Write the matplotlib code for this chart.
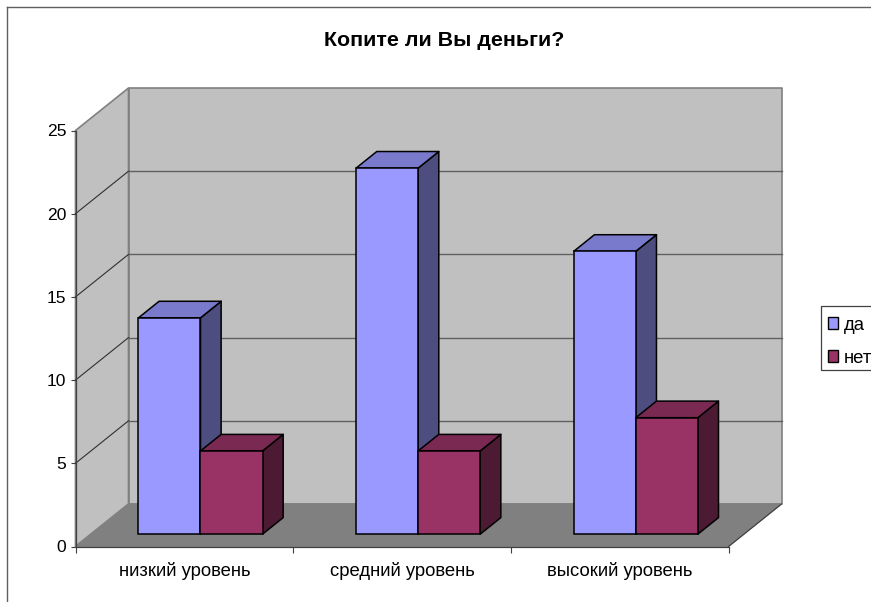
#!/usr/bin/env python3
"""
Копите ли Вы деньги? - столбчатая диаграмма в псевдо-3D
"""

import matplotlib
matplotlib.use('Agg')
import matplotlib.pyplot as plt
import numpy as np
from matplotlib.patches import Rectangle

categories = ['низкий уровень', 'средний уровень', 'высокий уровень']
da = [13, 22, 17]
net = [5, 5, 7]
series_names = ['да', 'нет']
y_ticks = [0, 5, 10, 15, 20, 25]

W, H = 871, 602
plt.rcParams['font.family'] = ['Liberation Sans', 'DejaVu Sans']

# Размеры передней плоскости в пикселях
left, right = 75.5, 728.5
bottom, top = 546.5, 130.5
px_x = (right - left) / 3
px_y = (bottom - top) / 25

# Сдвиг по глубине, в единицах данных
DX = 53 / px_x
DY = 42.5 / px_y
BAR_D = 0.29        # где стоит передняя грань столбца
BAR_DEPTH = 0.39    # глубина столбца
GAP = 0.2185
BAR_W = 0.285


def pr(x, y, d):
    return x + d * DX, y + d * DY


def face(ax, pts, color, edge='black', lw=1.1, z=3):
    xs, ys = zip(*[pr(*p) for p in pts])
    ax.fill(xs, ys, facecolor=color, edgecolor=edge, linewidth=lw,
            zorder=z, clip_on=False, joinstyle='round')


def draw_bar(ax, x0, h, front, top_c, side_c, z):
    x1 = x0 + BAR_W
    d0, d1 = BAR_D, BAR_D + BAR_DEPTH
    face(ax, [(x1, 0, d0), (x1, 0, d1), (x1, h, d1), (x1, h, d0)], side_c, z=z)
    face(ax, [(x0, h, d0), (x1, h, d0), (x1, h, d1), (x0, h, d1)], top_c, z=z)
    bx, by = pr(x0, 0, d0)
    return ax.bar(bx, h, BAR_W, bottom=by, align='edge', color=front,
                  edgecolor='black', linewidth=1.1, zorder=z, clip_on=False)


fig = plt.figure(figsize=(W / 100, H / 100), dpi=100, facecolor='white')
ax = fig.add_axes([left / W, 1 - bottom / H, (right - left) / W, (bottom - top) / H])
ax.set_xlim(0, 3)
ax.set_ylim(0, 25)
ax.patch.set_alpha(0)

# Стенки и пол
face(ax, [(0, 0, 1), (3, 0, 1), (3, 25, 1), (0, 25, 1)], '#c0c0c0', '#808080', 1.2, 1)
face(ax, [(0, 0, 0), (0, 0, 1), (0, 25, 1), (0, 25, 0)], '#c0c0c0', '#808080', 1.2, 1)
face(ax, [(0, 0, 0), (3, 0, 0), (3, 0, 1), (0, 0, 1)], '#808080', '#808080', 1.0, 1)

# Линии сетки
for t in y_ticks[1:-1]:
    xs, ys = zip(pr(0, t, 0), pr(0, t, 1), pr(3, t, 1))
    ax.plot(xs[:2], ys[:2], color='#303030', lw=0.8, zorder=2, clip_on=False)
    ax.plot(xs[1:], ys[1:], color='#606060', lw=1.0, zorder=2, clip_on=False)
xs, ys = zip(pr(3, 0, 0), pr(3, 0, 1))
ax.plot(xs, ys, color='#404040', lw=0.8, zorder=2, clip_on=False)

# Столбцы
for i in range(len(categories)):
    b1 = draw_bar(ax, i + GAP, da[i], '#9999ff', '#7a7acc', '#4d4d80', 3 + i * 2)
    b2 = draw_bar(ax, i + GAP + BAR_W, net[i], '#993366', '#7a2952', '#4d1a33', 4 + i * 2)

# Оси
for s in ['top', 'right']:
    ax.spines[s].set_visible(False)
for s in ['left', 'bottom']:
    ax.spines[s].set_color('#404040')
    ax.spines[s].set_linewidth(0.9)
    ax.spines[s].set_zorder(12)
ax.set_yticks(y_ticks)
ax.tick_params(axis='y', length=3.6, width=0.8, color='#404040', pad=3, labelsize=12.6)
ax.set_xticks([0, 1, 2, 3])
ax.set_xticklabels([])
ax.tick_params(axis='x', which='major', length=4.3, width=0.8, color='#404040')
ax.set_xticks([0.5, 1.5, 2.5], minor=True)
ax.set_xticklabels(categories, minor=True)
ax.tick_params(axis='x', which='minor', length=0, pad=11.5, labelsize=13.3)

fig.text(444.5 / W, 1 - 41 / H, 'Копите ли Вы деньги?', ha='center', va='center',
         fontsize=15.4, fontweight='bold')

# Рамка диаграммы: видны только левая и верхняя стороны
fig.add_artist(plt.Line2D([6.5 / W, 6.5 / W], [0, 1 - 6.5 / H], color='#606060', lw=1.0))
fig.add_artist(plt.Line2D([6.5 / W, 1], [1 - 6.5 / H, 1 - 6.5 / H], color='#606060', lw=1.0))

# Легенда: рамка отдельно, текст в ней сидит ниже центра
fig.add_artist(Rectangle((820.5 / W, 1 - 369.5 / H), 60 / W, 64 / H, facecolor='white',
                         edgecolor='#404040', lw=0.9, transform=fig.transFigure))
handles = [Rectangle((0, 0), 1, 1, facecolor='#9999ff', edgecolor='black', lw=1.0),
           Rectangle((0, 0), 1, 1, facecolor='#993366', edgecolor='black', lw=1.0)]
fig.legend(handles, series_names, loc='upper left',
           bbox_to_anchor=(820 / W, 1 - 308.5 / H), fontsize=13.3,
           frameon=False, borderaxespad=0,
           handlelength=0.55, handleheight=0.6, handletextpad=0.28,
           borderpad=0.45, labelspacing=0.85)

plt.savefig('out.png', dpi=100)
